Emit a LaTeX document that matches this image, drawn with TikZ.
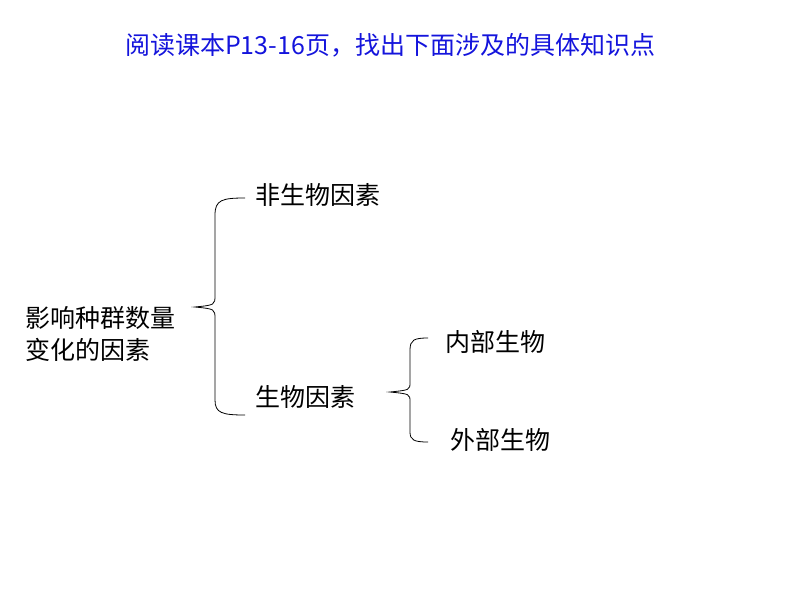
\documentclass[tikz,border=0pt]{standalone}
\usepackage{fontspec}
\setmainfont{Noto Sans CJK SC}
\tikzset{lbl/.style = {anchor=west, inner sep=0pt, font=\fontsize{25}{32}\selectfont}}
\tikzset{brace/.style = {thick}}
\begin{document}
\begin{tikzpicture}[x=1pt, y=-1pt]
\useasboundingbox (0,0) rectangle (794,596);

\node[lbl, anchor=center, text={rgb,255:red,20;green,20;blue,220}] (title) at (390,45) {阅读课本P13-16页，找出下面涉及的具体知识点};

\node[lbl, align=left] (root) at (25,334) {影响种群数量\\变化的因素};
\node[lbl] (abio) at (255,195) {非生物因素};
\node[lbl] (bio) at (255,397) {生物因素};
\node[lbl] (inner) at (445,342) {内部生物};
\node[lbl] (outer) at (450,440) {外部生物};

% big brace
\draw[brace] (245,198) .. controls (222,198) and (215,200) .. (215,215) -- (215,295)
  .. controls (215,305) .. (195,307) .. controls (215,309) .. (215,319) -- (215,400)
  .. controls (215,413) and (222,415) .. (245,415);
% small brace
\draw[brace] (428,338) .. controls (414,338) and (410,340) .. (410,350) -- (410,382)
  .. controls (410,390) .. (390,392) .. controls (410,394) .. (410,402) -- (410,432)
  .. controls (410,440) and (414,442) .. (428,442);

\end{tikzpicture}
\end{document}
